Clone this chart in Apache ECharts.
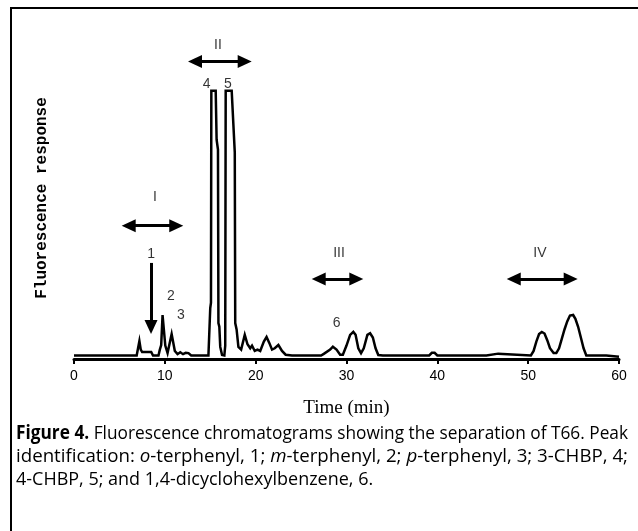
<!DOCTYPE html>
<html>
<head>
<meta charset="utf-8">
<script src="https://cdn.jsdelivr.net/npm/echarts@6/dist/echarts.min.js"></script>
<style>
  html, body { margin: 0; padding: 0; background: #fff; }
  #chart { width: 638px; height: 531px; }
</style>
</head>
<body>
<div id="chart"></div>
<script>
// chromatogram trace, time in min, response in arbitrary units (peaks 4/5 off scale at 100)
const times = [
  0, 6.9, 7.05, 7.2, 7.35, 7.5, 8.5, 8.7, 9.3, 9.45, 9.6, 9.75, 9.9, 10.05, 10.3, 10.5,
  10.75, 10.95, 11.1, 11.4, 11.7, 12.0, 12.3, 12.6, 12.9, 14.8, 15.0, 15.08, 15.12, 15.6,
  15.7, 15.85, 15.9, 16.0, 16.1, 16.3, 16.55, 16.65, 16.7, 17.36, 17.7, 17.75, 17.9, 18.1,
  18.4, 18.8, 19.1, 19.4, 19.6, 19.9, 20.2, 20.5, 20.9, 21.2, 21.5, 21.8, 22.1, 22.5, 22.9,
  23.3, 24, 25.8, 26, 26.2, 27.2, 27.5, 28.2, 28.5, 28.9, 29.3, 29.6, 30.0, 30.4, 30.75,
  31.0, 31.3, 31.6, 31.9, 32.3, 32.6, 32.9, 33.2, 33.5, 34, 39.1, 39.4, 39.7, 40.0, 45.4,
  45.5, 46.7, 46.8, 50.3, 50.6, 50.9, 51.2, 51.5, 51.8, 52.1, 52.4, 52.8, 53.1, 53.4, 53.7,
  54.0, 54.3, 54.6, 54.95, 55.2, 55.5, 55.8, 56.1, 56.4, 58.6, 58.7, 60
];
const response = [
  1.3, 1.3, 4, 6.7, 3.5, 2.6, 2.6, 1.3, 1.3, 3.5, 5.2, 16.4, 16.0, 5, 2.2, 2.6,
  9.3, 9.0, 3, 1.8, 2.5, 1.8, 2.3, 2.2, 1.3, 1.3, 19, 21, 100, 100,
  81.7, 78, 13.4, 12, 4.5, 1.5, 1.3, 5, 100, 100, 77, 13.4, 11, 4.5,
  3.5, 9.0, 5.5, 4, 5, 3, 3.5, 3, 6.5, 8.2, 6, 3.5, 4, 5.2, 3,
  1.6, 1.3, 1.3, 1.8, 1.3, 1.3, 1.9, 3.5, 4.6, 3.5, 1.6, 1.6, 5, 9, 10.1,
  9, 4, 2.2, 4, 9.0, 9.6, 8, 4, 1.5, 1.3, 1.3, 2.3, 2.3, 1.3, 1.3,
  2, 2, 1.3, 1.3, 3, 6.5, 9.3, 10.1, 9.5, 7, 4, 2.2, 2.2, 4, 7.5,
  11, 14, 16.2, 16.4, 15, 12, 8, 4, 1.3, 1.3, 0.8, 0.8
];
const xTicks = [0, 10, 20, 30, 40, 50, 60];

// annotation text and where it sits (time, response)
const labelTexts = ['I', 'II', 'III', 'IV', '1', '2', '3', '4', '5', '6'];
const labelTimes = [8.9, 15.85, 29.18, 51.3, 8.48, 10.68, 11.78, 14.6, 16.95, 28.92];
const labelValues = [60.4, 116.8, 39.6, 39.6, 39.2, 23.5, 16.4, 102.6, 102.6, 13.5];

// double arrows for fractions I-IV
const rangeFrom = [6.02, 13.32, 26.94, 48.41];
const rangeTo = [11.26, 18.79, 31.08, 54.68];
const rangeLevel = [49.7, 110.9, 29.85, 29.85];

// arrow pointing at peak 1
const peak1Arrow = [[8.48, 35.8], [8.48, 11.9]];

const captionLines = [
  [['b', 'Figure 4.'], ['r', ' Fluorescence chromatograms showing the separation of T66. Peak']],
  [['r', 'identification: '], ['i', 'o'], ['r', '-terphenyl, 1; '], ['i', 'm'], ['r', '-terphenyl, 2; '],
   ['i', 'p'], ['r', '-terphenyl, 3; 3-CHBP, 4;']],
  [['r', '4-CHBP, 5; and 1,4-dicyclohexylbenzene, 6.']]
];

const chart = echarts.init(document.getElementById('chart'));

const capFont = '"Open Sans", "Noto Sans", sans-serif';
const capSize = 19;
const capStyles = {
  b: { fontWeight: 'bold', fontStyle: 'normal' },
  r: { fontWeight: 'normal', fontStyle: 'normal' },
  i: { fontWeight: 'normal', fontStyle: 'italic' }
};
const ctx = document.createElement('canvas').getContext('2d');
function lineWidth(line) {
  let w = 0;
  line.forEach(([k, t]) => {
    ctx.font = capStyles[k].fontStyle + ' ' + capStyles[k].fontWeight + ' ' + capSize + 'px ' + capFont;
    w += ctx.measureText(t).width;
  });
  return w;
}
const capLeft = 16;
const capRight = 628;
const capY = [434, 457, 480];
const s1 = (capRight - capLeft) / lineWidth(captionLines[0]);
const s2 = (capRight - capLeft) / lineWidth(captionLines[1]);
const capScales = [s1, s2, (s1 + s2) / 2];
const rich = {};
Object.keys(capStyles).forEach(k => {
  rich[k] = Object.assign({ fontSize: capSize, fontFamily: capFont, fill: '#000' }, capStyles[k]);
});
const captionGraphics = captionLines.map((line, i) => ({
  type: 'text',
  x: capLeft,
  y: capY[i],
  scaleX: capScales[i],
  style: {
    text: line.map(([k, t]) => '{' + k + '|' + t + '}').join(''),
    rich: rich,
    fontSize: capSize,
    fontFamily: capFont,
    verticalAlign: 'middle',
    align: 'left',
    fill: '#000'
  }
}));

const trace = times.map((t, i) => [t, response[i]]);
const labelData = labelTexts.map((txt, i) => ({ name: txt, value: [labelTimes[i], labelValues[i]] }));
const arrowLines = rangeFrom.map((f, i) => [
  { coord: [f, rangeLevel[i]], symbol: 'triangle' },
  { coord: [rangeTo[i], rangeLevel[i]], symbol: 'triangle' }
]);
arrowLines.push([
  { coord: peak1Arrow[0], symbol: 'none' },
  { coord: peak1Arrow[1], symbol: 'triangle' }
]);

chart.setOption({
  animation: false,
  backgroundColor: '#fff',
  grid: { left: 74, right: 19, top: 37, bottom: 172 },
  xAxis: {
    type: 'value',
    min: 0,
    max: 60,
    interval: 10,
    name: 'Time (min)',
    nameLocation: 'middle',
    nameGap: 40,
    nameTextStyle: { fontFamily: 'Liberation Serif', fontSize: 19, color: '#000' },
    axisLine: { lineStyle: { color: '#000', width: 3 } },
    axisTick: { show: true, inside: false, length: 5, lineStyle: { color: '#000', width: 2 } },
    axisLabel: {
      color: '#000',
      fontFamily: 'Liberation Sans',
      fontSize: 14,
      margin: 10,
      customValues: xTicks
    },
    splitLine: { show: false }
  },
  yAxis: {
    type: 'value',
    min: 0,
    max: 120,
    name: 'Fluorescence response',
    nameLocation: 'middle',
    nameRotate: 90,
    nameGap: 24,
    nameTextStyle: { fontFamily: 'Liberation Mono', fontSize: 16, fontWeight: 'bold', color: '#000' },
    axisLine: { show: false },
    axisTick: { show: false },
    axisLabel: { show: false },
    splitLine: { show: false }
  },
  graphic: [
    {
      type: 'rect',
      shape: { x: 11, y: 8, width: 700, height: 600 },
      style: { fill: 'none', stroke: '#000', lineWidth: 2 },
      silent: true
    }
  ].concat(captionGraphics),
  series: [
    {
      name: 'Fluorescence',
      type: 'line',
      data: trace,
      showSymbol: false,
      symbol: 'none',
      clip: false,
      lineStyle: { color: '#000', width: 2.5, join: 'miter' }
    },
    {
      name: 'Annotations',
      type: 'scatter',
      data: labelData,
      symbolSize: 0,
      clip: false,
      label: {
        show: true,
        position: 'inside',
        formatter: p => p.name,
        color: '#000',
        fontFamily: 'Liberation Sans',
        fontSize: 14
      },
      markLine: {
        silent: true,
        symbolSize: [13, 14],
        label: { show: false },
        lineStyle: { color: '#000', width: 3, type: 'solid' },
        emphasis: { disabled: true },
        data: arrowLines
      }
    }
  ]
});
</script>
</body>
</html>
